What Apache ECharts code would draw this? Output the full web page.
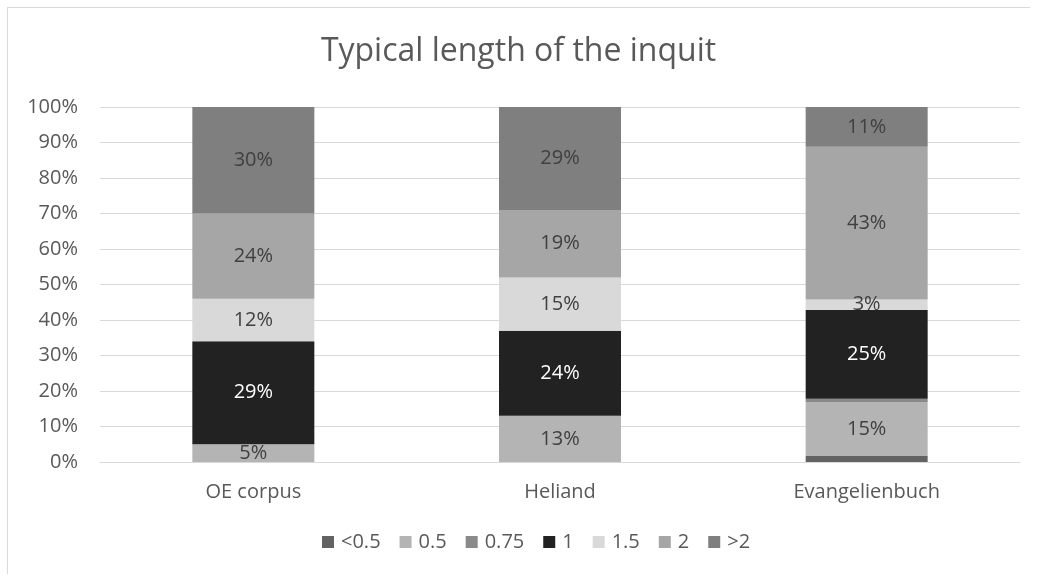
<!DOCTYPE html>
<html><head><meta charset="utf-8">
<script src="https://cdn.jsdelivr.net/npm/echarts@6/dist/echarts.min.js"></script>
<style>html,body{margin:0;padding:0;background:#fff}#c{width:1037px;height:579px}</style>
</head><body><div id="c"></div>
<script>
const categories = ["OE corpus", "Heliand", "Evangelienbuch"];
const seriesNames = ["<0.5", "0.5", "0.75", "1", "1.5", "2", ">2"];
const vLt05 = [0, 0, 1.7];
const v05 = [5, 13, 15.2];
const v075 = [0, 0, 0.9];
const v1 = [29, 24, 25];
const v15 = [12, 15, 3];
const v2 = [24, 19, 43];
const vGt2 = [30, 29, 11.2];
const labelShown = [false, true, false, true, true, true, true];
const colors = ["#636363", "#b4b4b4", "#8a8a8a", "#222222", "#d9d9d9", "#a6a6a6", "#7f7f7f"];
const allValues = [vLt05, v05, v075, v1, v15, v2, vGt2];

const font = "'Open Sans', sans-serif";
const chart = echarts.init(document.getElementById('c'));
chart.setOption({
  animation: false,
  title: { text: "Typical length of the inquit", left: 'center', top: 31,
    textStyle: { fontFamily: font, fontSize: 32, fontWeight: 'normal', color: '#595959' } },
  grid: { left: 100, right: 17, top: 107, bottom: 117 },
  xAxis: { type: 'category', data: categories,
    axisLine: { lineStyle: { color: '#d9d9d9' } }, axisTick: { show: false },
    axisLabel: { fontFamily: font, fontSize: 20, color: '#595959', margin: 20 } },
  yAxis: { type: 'value', min: 0, max: 100, interval: 10,
    axisLabel: { formatter: '{value}%', fontFamily: font, fontSize: 20, color: '#595959', margin: 22 },
    splitLine: { lineStyle: { color: '#d9d9d9' } }, axisLine: { show: false }, axisTick: { show: false } },
  legend: { left: 317, bottom: 22, itemWidth: 12, itemHeight: 12, itemGap: 19, icon: 'rect',
    textStyle: { fontFamily: font, fontSize: 20, color: '#595959', padding: [0, 0, 0, 2] },
    data: seriesNames },
  series: seriesNames.map((n, i) => ({
    name: n, type: 'bar', stack: 'total', barWidth: 122,
    data: allValues[i].map(v => v === 0 ? null : v),
    itemStyle: { color: colors[i] },
    label: { show: labelShown[i], position: 'inside', fontFamily: font, fontSize: 20,
      color: i === 3 ? '#ffffff' : '#404040',
      formatter: p => p.value ? Math.round(p.value) + '%' : '' }
  }))
});
</script>
<div style="position:absolute;left:7px;top:7px;width:1022px;height:566px;border:1px solid #d9d9d9;pointer-events:none;border-right:none;border-bottom:none"></div>
</body></html>
